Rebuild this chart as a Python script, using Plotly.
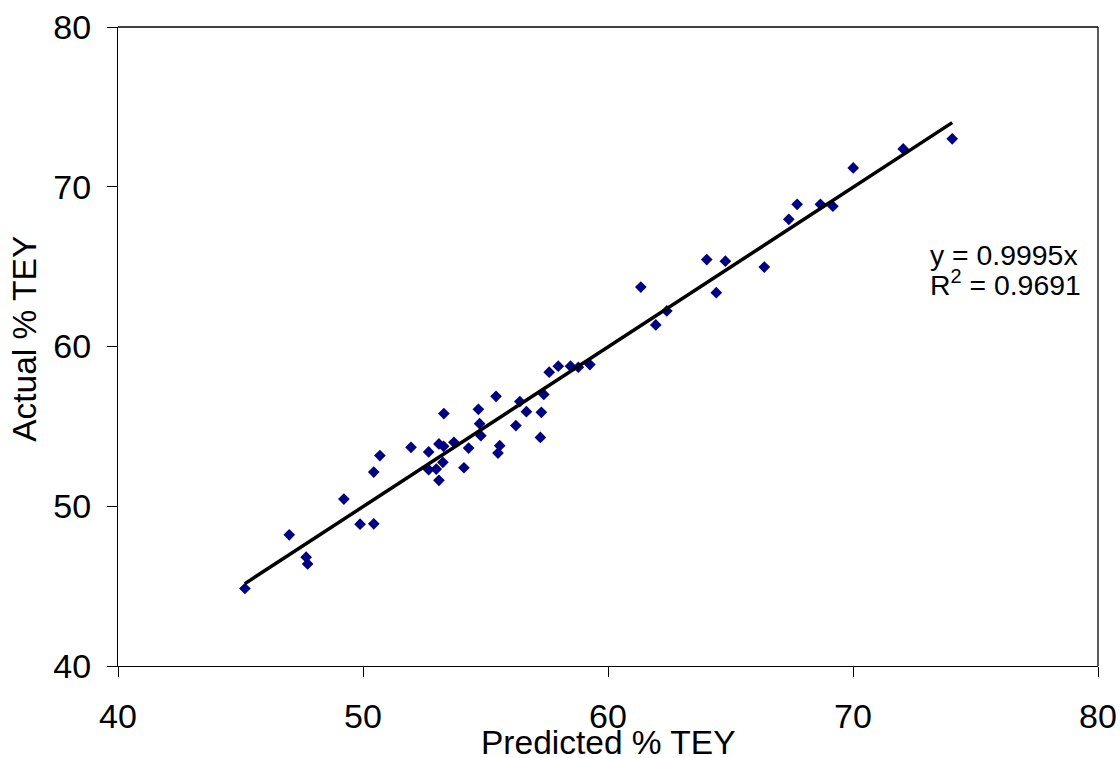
import plotly.graph_objects as go

# Predicted vs actual total extractable yield (%)
predicted = [45.18, 46.99, 47.68, 47.74, 49.22, 49.88, 50.44, 50.44, 50.69, 51.96,
             52.68, 52.68, 52.99, 53.26, 53.10, 53.10, 53.29, 53.30, 53.71, 54.12,
             54.31, 54.71, 54.76, 54.81, 55.43, 55.58, 55.51, 56.24, 56.40, 56.67,
             57.28, 57.24, 57.38, 57.60, 57.97, 58.47, 58.79, 59.26, 61.34, 61.95,
             62.40, 64.03, 64.42, 64.79, 66.38, 67.38, 67.72, 68.67, 69.18, 70.01,
             72.05, 74.05]
actual = [44.85, 48.21, 46.81, 46.39, 50.45, 48.88, 48.90, 52.14, 53.17, 53.69,
          53.40, 52.29, 52.33, 52.75, 51.62, 53.90, 53.75, 55.80, 54.00, 52.41,
          53.64, 56.07, 55.17, 54.42, 56.88, 53.79, 53.33, 55.05, 56.55, 55.92,
          55.88, 54.31, 57.00, 58.39, 58.77, 58.77, 58.70, 58.87, 63.72, 61.35,
          62.23, 65.44, 63.37, 65.34, 64.97, 67.96, 68.90, 68.90, 68.78, 71.18,
          72.37, 73.00]

# Trendline through the origin
slope = 0.9995
r_squared = 0.9691

x_ticks = [40, 50, 60, 70, 80]
y_ticks = [40, 50, 60, 70, 80]

FONT = "Arial, Liberation Sans, sans-serif"
TICK_SIZE = 34
TITLE_SIZE = 33.5
EQ_SIZE = 28.4

fig = go.Figure()

fig.add_trace(go.Scatter(
    x=predicted, y=actual, mode="markers",
    marker=dict(symbol="diamond", size=9, color="#000080", line=dict(width=0)),
    showlegend=False, hoverinfo="x+y",
))

x_line = [min(predicted), max(predicted)]
fig.add_trace(go.Scatter(
    x=x_line, y=[slope * v for v in x_line], mode="lines",
    line=dict(color="black", width=3.5),
    showlegend=False, hoverinfo="skip",
))

# Trendline equation and goodness of fit
fig.add_annotation(
    x=73.08, y=65.7, xref="x", yref="y", xanchor="left", yanchor="middle",
    text=f"y = {slope}x", showarrow=False,
    font=dict(family=FONT, size=EQ_SIZE, color="black"),
)
fig.add_annotation(
    x=73.08, y=63.95, xref="x", yref="y", xanchor="left", yanchor="middle",
    text=f"R<sup>2</sup> = {r_squared}", showarrow=False,
    font=dict(family=FONT, size=EQ_SIZE, color="black"),
)

# Axis titles
fig.add_annotation(
    x=0.5, y=-0.119, xref="paper", yref="paper", xanchor="center", yanchor="middle",
    text="Predicted % TEY", showarrow=False,
    font=dict(family=FONT, size=TITLE_SIZE, color="black"),
)
fig.add_annotation(
    x=-0.0949, y=0.512, xref="paper", yref="paper", xanchor="center", yanchor="middle",
    text="Actual % TEY", showarrow=False, textangle=-90,
    font=dict(family=FONT, size=TITLE_SIZE, color="black"),
)

axis_common = dict(
    showgrid=False, zeroline=False, showline=True, linecolor="black", linewidth=1.3,
    ticks="outside", ticklen=10, tickwidth=1, tickcolor="black",
    tickfont=dict(family=FONT, size=TICK_SIZE, color="black"),
    mirror=False, automargin=False,
)

fig.update_xaxes(
    range=[40, 80], tickvals=x_ticks, ticktext=[str(t) for t in x_ticks],
    ticklabelstandoff=10,
    **axis_common,
)
fig.update_yaxes(
    range=[40, 80], tickvals=y_ticks, ticktext=[str(t) for t in y_ticks],
    ticklabelstandoff=9,
    **axis_common,
)

# Plot-area frame on the top and right
fig.add_shape(type="line", xref="paper", yref="paper", x0=0, x1=1, y0=1, y1=1,
              line=dict(color="black", width=1.3))
fig.add_shape(type="line", xref="paper", yref="paper", x0=1, x1=1, y0=0, y1=1,
              line=dict(color="black", width=1.3))

fig.update_layout(
    width=1120, height=758,
    margin=dict(l=118, r=22, t=27, b=92),
    paper_bgcolor="white", plot_bgcolor="white",
    font=dict(family=FONT, color="black"),
)

fig.write_html("out.html")
